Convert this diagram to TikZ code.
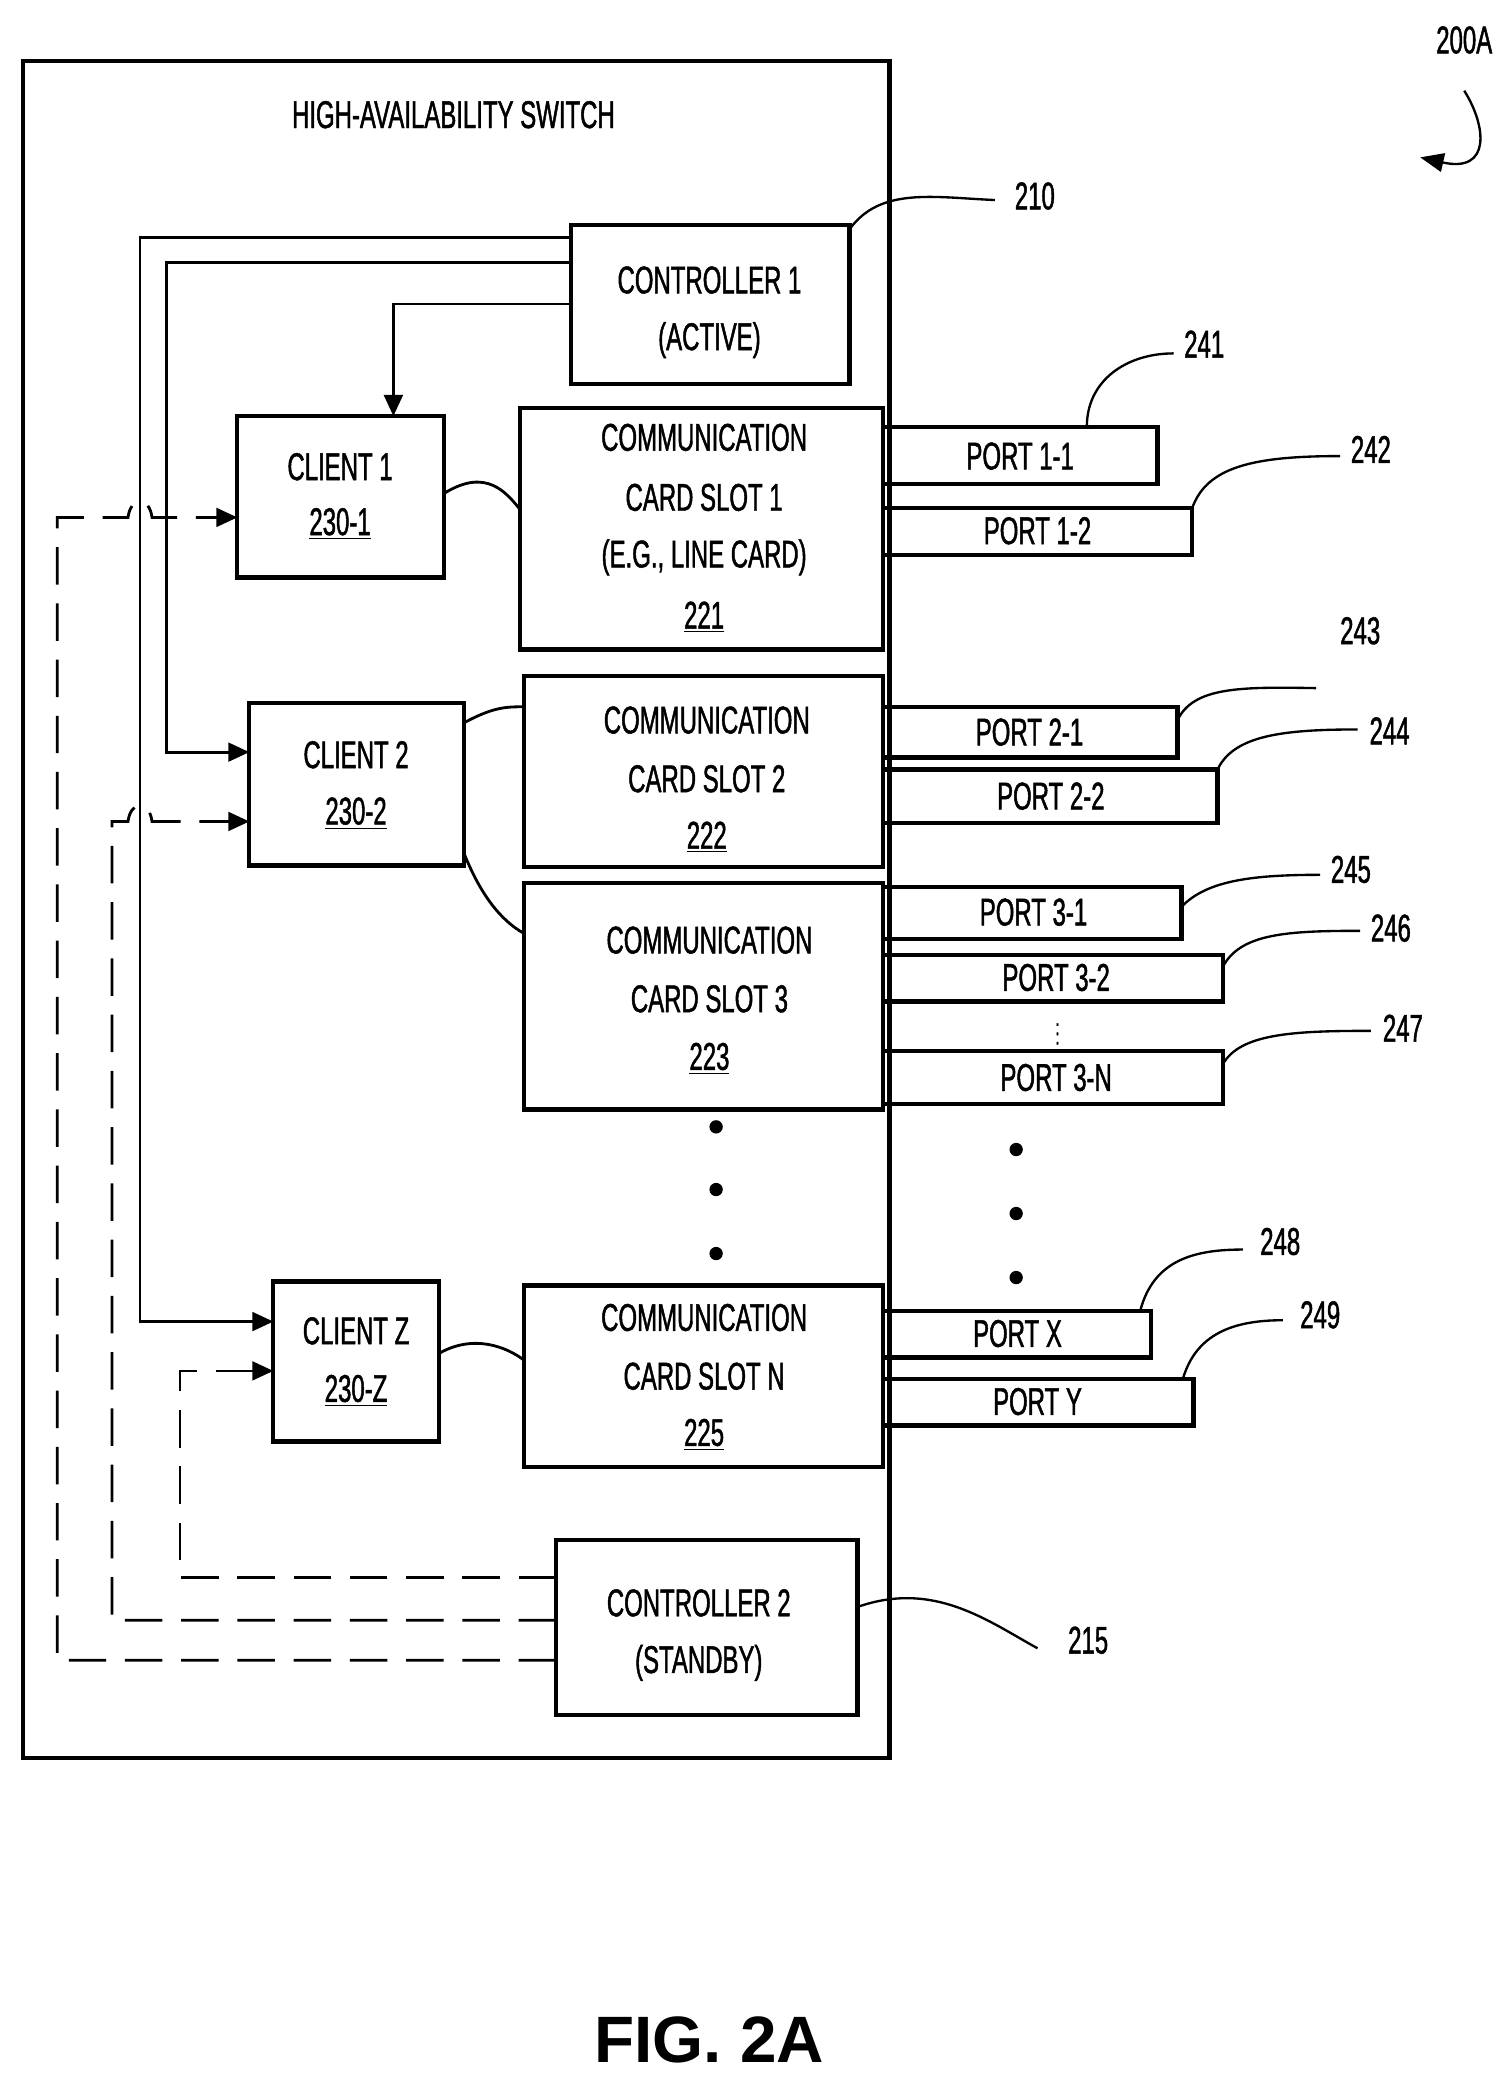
\documentclass[tikz,border=0pt]{standalone}
\usepackage{fontspec}
\setmainfont{Liberation Sans}[FakeStretch=0.62,FakeBold=1.2]
\newfontfamily\figfont{Liberation Sans}
\usetikzlibrary{arrows.meta}
\begin{document}
\begin{tikzpicture}[x=0.02cm,y=-0.02cm,
 box/.style={draw,line width=1.8pt},
 t/.style={font=\fontsize{16.5}{18}\selectfont,inner sep=0pt},
 ln/.style={line width=1.2pt},
 ar/.style={ln,-{Triangle[length=9pt,width=8pt]}},
 da/.style={ar,dash pattern=on 16pt off 8pt},
 lead/.style={line width=1pt}]
\useasboundingbox (0,0) rectangle (1132,1556);
\draw[box] (17,46) rectangle (667,1318);
\node[t] (title) at (340,86) {HIGH-AVAILABILITY SWITCH};
% boxes
\draw[box] (428,169) rectangle (637,288);
\node[t] (c1a) at (532,210) {CONTROLLER 1}; \node[t] (c1b) at (532,255) {(ACTIVE)};
\draw[box] (178,312) rectangle (333,433);
\node[t] at (255,350) {CLIENT 1}; \node[t] at (255,393) {\underline{230-1}};
\draw[box] (390,306) rectangle (662,487);
\node[t] at (528,328) {COMMUNICATION}; \node[t] at (528,373) {CARD SLOT 1};
\node[t] at (528,418) {(E.G., LINE CARD)}; \node[t] at (528,463) {\underline{221}};
\draw[box] (662,320) rectangle (868,363); \node[t] at (765,342) {PORT 1-1};
\draw[box] (662,381) rectangle (894,416); \node[t] at (778,398) {PORT 1-2};
\draw[box] (187,527) rectangle (348,649);
\node[t] at (267,566) {CLIENT 2}; \node[t] at (267,610) {\underline{230-2}};
\draw[box] (393,507) rectangle (662,650);
\node[t] at (530,540) {COMMUNICATION}; \node[t] at (530,584) {CARD SLOT 2}; \node[t] at (530,628) {\underline{222}};
\draw[box] (662,530) rectangle (883,568); \node[t] at (772,549) {PORT 2-1};
\draw[box] (662,577) rectangle (913,617); \node[t] at (788,597) {PORT 2-2};
\draw[box] (393,662) rectangle (662,832);
\node[t] at (532,705) {COMMUNICATION}; \node[t] at (532,749) {CARD SLOT 3}; \node[t] at (532,794) {\underline{223}};
\draw[box] (662,665) rectangle (886,704); \node[t] at (775,684) {PORT 3-1};
\draw[box] (662,716) rectangle (917,751); \node[t] at (792,733) {PORT 3-2};
\node[t,font=\fontsize{10}{10}\selectfont] at (793,770) {$\vdots$};
\draw[box] (662,788) rectangle (917,828); \node[t] at (792,808) {PORT 3-N};
\foreach \y in {845,892,940} \fill (537,\y) circle (5);
\foreach \y in {862,910,958} \fill (762,\y) circle (5);
\draw[box] (205,961) rectangle (329,1081);
\node[t] at (267,998) {CLIENT Z}; \node[t] at (267,1043) {\underline{230-Z}};
\draw[box] (393,964) rectangle (662,1100);
\node[t] at (528,988) {COMMUNICATION}; \node[t] at (528,1032) {CARD SLOT N}; \node[t] at (528,1076) {\underline{225}};
\draw[box] (662,983) rectangle (863,1018); \node[t] at (763,1000) {PORT X};
\draw[box] (662,1034) rectangle (895,1069); \node[t] at (778,1051) {PORT Y};
\draw[box] (417,1155) rectangle (643,1286);
\node[t] at (524,1202) {CONTROLLER 2}; \node[t] at (524,1247) {(STANDBY)};
% solid connectors
\draw[ar] (428,178) -- (105,178) -- (105,991) -- (205,991);
\draw[ar] (428,197) -- (125,197) -- (125,564) -- (187,564);
\draw[ar] (428,228) -- (295,228) -- (295,312);
% dashed connectors
\draw[da] (417,1245) -- (43,1245) -- (43,388) -- (96,388) .. controls (98,372) and (112,372) .. (114,388) -- (178,388);
\draw[da] (417,1215) -- (84,1215) -- (84,616) -- (96,616) .. controls (98,600) and (112,600) .. (114,616) -- (187,616);
\draw[da] (417,1183) -- (135,1183) -- (135,1028) -- (205,1028);
% client-slot curves
\draw[ln] (333,370) .. controls (365,350) and (380,370) .. (390,382);
\draw[ln] (348,542) .. controls (370,530) and (380,530) .. (393,530);
\draw[ln] (348,640) .. controls (360,670) and (375,690) .. (393,700);
\draw[ln] (329,1015) .. controls (355,1000) and (380,1010) .. (393,1020);
% labels
\node[t] (l210) at (776,147) {210};
\draw[lead] (637,172) .. controls (660,140) and (700,148) .. (746,150);
\node[t] at (903,258) {241};
\draw[lead] (815,320) .. controls (815,285) and (845,265) .. (880,265);
\node[t] at (1028,337) {242};
\draw[lead] (894,381) .. controls (905,350) and (940,342) .. (1005,342);
\node[t] at (1020,473) {243};
\draw[lead] (883,540) .. controls (895,515) and (930,515) .. (987,516);
\node[t] at (1042,548) {244};
\draw[lead] (913,577) .. controls (925,552) and (960,547) .. (1018,547);
\node[t] at (1013,652) {245};
\draw[lead] (886,680) .. controls (905,660) and (940,656) .. (990,656);
\node[t] at (1043,696) {246};
\draw[lead] (917,725) .. controls (930,700) and (965,698) .. (1020,698);
\node[t] at (1052,771) {247};
\draw[lead] (917,798) .. controls (930,775) and (970,773) .. (1028,773);
\node[t] at (960,931) {248};
\draw[lead] (855,983) .. controls (865,945) and (895,937) .. (932,937);
\node[t] at (990,986) {249};
\draw[lead] (887,1034) .. controls (897,1000) and (925,990) .. (962,990);
\node[t] at (816,1230) {215};
\draw[lead] (643,1205) .. controls (700,1185) and (740,1215) .. (778,1236);
\node[t] at (1098,30) {200A};
\draw[lead,-{Triangle[length=10pt,width=8pt]}] (1098,68) .. controls (1115,95) and (1118,130) .. (1065,118);
\node[font=\figfont\bfseries\fontsize{28}{30}\selectfont,inner sep=0pt] at (532,1530) {FIG. 2A};
\end{tikzpicture}
\end{document}
